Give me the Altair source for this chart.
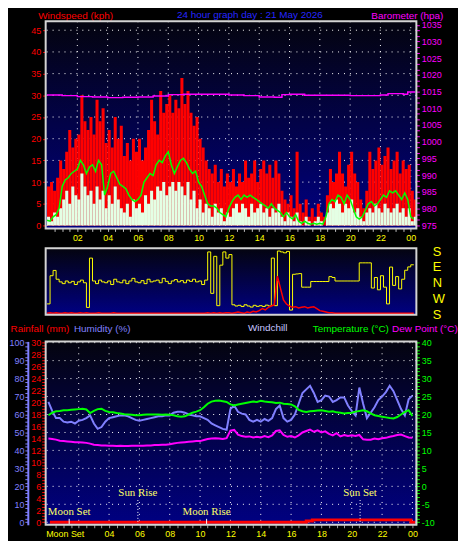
import altair as alt
import pandas as pd

FONT = "Liberation Sans"

# ---------------- wind data, 12-minute samples (hours since midnight) ----------------
t_wind = [round(0.2 * i, 1) for i in range(122)]

gust = [9, 10, 8, 11, 15, 13, 17, 22, 18, 20,
        21, 30, 24, 22, 25, 21, 29, 24, 27, 19,
        22, 18, 25, 20, 23, 16, 19, 15, 20, 17,
        20, 15, 18, 22, 29, 24, 21, 31, 26, 28,
        30, 26, 29, 27, 34, 28, 31, 26, 23, 25,
        20, 18, 15, 13, 12, 14, 10, 13, 9, 12,
        10, 13, 9, 12, 10, 15, 11, 12, 15, 10,
        13, 15, 12, 14, 11, 15, 12, 8, 6, 5,
        7, 4, 17, 5, 3, 6, 2, 4, 2, 5,
        3, 2, 7, 13, 10, 12, 17, 12, 9, 14,
        17, 12, 10, 6, 4, 8, 17, 13, 15, 18,
        14, 16, 18, 13, 15, 17, 12, 15, 13, 14,
        8, 6]

speed = [2, 1, 3, 2, 4, 6, 8, 5, 9, 7,
         6, 12, 9, 7, 8, 5, 9, 6, 8, 4,
         7, 5, 9, 6, 4, 3, 5, 2, 6, 4,
         5, 3, 7, 5, 8, 6, 9, 8, 10, 7,
         9, 10, 8, 10, 9, 7, 10, 6, 8, 4,
         6, 3, 5, 4, 2, 5, 3, 4, 1, 3,
         2, 4, 5, 3, 5, 4, 2, 5, 3, 4,
         5, 3, 4, 2, 4, 3, 5, 2, 1, 3,
         2, 1, 3, 1, 0, 2, 1, 0, 1, 2,
         1, 0, 3, 5, 4, 6, 5, 3, 5, 4,
         6, 3, 4, 2, 1, 3, 4, 3, 5, 4,
         3, 5, 4, 3, 4, 5, 3, 4, 2, 4,
         1, 2]

avg = [1.2, 1.0, 2, 2.5, 4, 9, 10.5, 11, 12, 12.5,
       13, 15, 14, 12, 13.5, 14, 12.5, 15, 14, 7,
       9, 12, 12.5, 11, 9.5, 9, 8.5, 7, 6, 5.5,
       6, 7, 10, 11, 12, 11.5, 14, 15, 14.5, 16,
       17, 14, 12, 13.5, 15, 15.5, 14.5, 13, 12, 12.5,
       10, 9, 7, 5, 4.5, 4.5, 4, 3, 2.5, 2,
       4, 5.5, 6.5, 7, 6, 7, 6.5, 7, 6.5, 6,
       5.5, 5, 4.5, 4, 5, 4, 3.5, 3, 2, 3,
       2, 1.5, 2.5, 1, 0.5, 1, 0.5, 0.3, 0.5, 0.3,
       0.5, 0.3, 2, 5, 6, 5.5, 7, 6.5, 5, 7,
       6, 4, 2, 1.5, 2, 3.5, 5, 5.5, 4.5, 5,
       6, 7, 6.5, 8, 7.5, 8, 7, 6, 7.5, 6,
       2, 1.5]

# wind direction, compass degrees
wdir = [240, 40, 70, 20, 5, 355, 10, 0, 8, 350,
        5, 15, 0, 220, 140, 10, 355, 15, 5, 0,
        10, 350, 20, 5, 0, 15, 355, 10, 25, 5,
        0, 12, 355, 20, 5, 10, 15, 0, 25, 8,
        355, 10, 18, 5, 12, 0, 15, 8, 20, 5,
        10, 350, 15, 175, 300, 150, 230, 100, 175, 140,
        160, 235, 228, 232, 225, 235, 228, 222, 232, 226,
        230, 225, 233, 228, 140, 230, 180, 175, 170, 178,
        205, 48, 50, 52, 335, 335, 335, 7, 7, 7,
        7, 7, 7, 35, 30, 10, 10, 10, 10, 10,
        10, 10, 10, 113, 113, 113, 113, 330, 30, 320,
        40, 335, 240, 89, 345, 35, 325, 20, 71, 90,
        102, 102]

# red trace of the direction panel (relative units 0-100)
wred = [2, 3, 2, 3, 2, 2, 3, 2, 3, 2,
        2, 3, 2, 3, 2, 2, 2, 3, 2, 2,
        2, 2, 3, 2, 2, 2, 2, 2, 2, 2,
        2, 2, 2, 2, 2, 2, 2, 2, 2, 2,
        2, 2, 2, 2, 2, 2, 2, 2, 2, 2,
        2, 2, 2, 3, 2, 3, 2, 3, 2, 3,
        3, 2, 3, 4, 3, 2, 4, 3, 5, 4,
        6, 9, 7, 11, 13, 15, 58, 40, 22, 16,
        13, 11, 12, 10, 11, 12, 10, 11, 12, 9,
        6, 5, 4, 3, 3, 2, 2, 2, 2, 2,
        2, 2, 2, 2, 2, 2, 2, 2, 2, 2,
        2, 2, 2, 2, 2, 2, 2, 2, 2, 2,
        2, 2]

# ---------------- barometer ----------------
t_baro = [0, 1, 2, 3, 4, 5, 6, 7, 8, 9, 10, 11, 12, 13, 14, 15, 15.5, 16, 17,
          18, 19, 20, 21, 22, 22.5, 23, 23.5, 23.8, 24.3]
baro = [1014.0, 1013.8, 1013.5, 1013.4, 1013.2, 1013.3, 1013.4, 1013.7, 1014.1,
        1014.2, 1014.2, 1014.2, 1014.0, 1013.8, 1013.4, 1013.3, 1014.1, 1014.2,
        1013.9, 1013.9, 1013.9, 1013.8, 1013.8, 1014.0, 1014.4, 1014.4, 1014.2,
        1014.9, 1014.9]

# ---------------- temperature / humidity, 15-minute samples ----------------
t_th = [round(0.25 * i, 2) for i in range(97)]

humidity = [67, 62, 58, 58, 56, 55.5, 56, 55,
            56.5, 57, 58, 59.5, 55, 52, 53, 56,
            58, 58.5, 59, 59.5, 59.5, 59, 58, 57,
            56.5, 57, 57.5, 58, 58.5, 59, 59, 59.5,
            59.5, 61, 61.5, 61.5, 61, 60, 59.5, 59,
            59, 58, 57, 55, 54, 53, 52, 51.5,
            63, 65, 61.5, 60.5, 60, 57, 56, 57,
            56, 57.5, 56.5, 58, 63, 65, 58, 56,
            57, 60, 66, 72, 74, 76, 72, 67,
            68, 70.5, 70, 67, 68, 69.5, 69.5, 65,
            62, 59.5, 75, 66, 58, 61, 64, 68,
            70, 72.5, 76, 73, 68, 63, 59.5, 68.5,
            70.5]

temperature = [19.8, 20.5, 20.9, 21.0, 21.2, 21.2, 21.3, 21.4,
               21.5, 21.6, 21.4, 20.4, 21.0, 21.5, 21.6, 21.0,
               20.7, 20.6, 20.4, 20.3, 20.1, 20.0, 19.9, 19.8,
               19.8, 19.9, 20.0, 20.0, 20.0, 20.0, 19.9, 20.0,
               19.9, 19.8, 19.5, 19.4, 19.5, 20.0, 20.5, 20.8,
               21.2, 22.0, 23.0, 23.6, 23.8, 23.9, 23.7, 23.5,
               22.8, 22.5, 22.8, 23.0, 23.2, 23.4, 23.6, 23.5,
               23.8, 23.6, 23.5, 23.4, 23.2, 23.3, 23.0, 22.9,
               22.8, 22.3, 21.3, 20.9, 20.7, 20.9, 21.0, 21.1,
               21.2, 21.0, 20.8, 20.9, 20.6, 20.5, 20.3, 20.4,
               20.5, 20.8, 21.0, 21.2, 20.9, 20.3, 19.8, 19.6,
               19.4, 19.2, 19.0, 18.9, 19.3, 20.0, 20.7, 21.2,
               19.6]

dewpoint = [13.3, 13.2, 13.0, 12.7, 12.6, 12.5, 12.4, 12.3,
            12.3, 12.2, 12.1, 11.9, 11.6, 11.5, 11.4, 11.4,
            11.3, 11.3, 11.2, 11.3, 11.2, 11.2, 11.3, 11.3,
            11.3, 11.3, 11.4, 11.4, 11.5, 11.5, 11.6, 11.6,
            11.7, 11.9, 12.1, 12.2, 12.3, 12.4, 12.5, 12.6,
            12.6, 12.9, 13.2, 13.3, 13.4, 13.3, 13.2, 13.4,
            15.5, 15.7, 14.4, 14.0, 13.8, 13.9, 13.6, 13.8,
            13.6, 14.0, 13.7, 14.2, 15.4, 15.6, 14.3, 13.8,
            14.0, 13.6, 14.2, 15.0, 15.4, 15.8, 15.2, 15.6,
            15.0, 15.3, 14.6, 14.2, 14.8, 13.9, 14.3, 14.0,
            14.2, 14.0, 14.3, 13.1, 13.0, 13.0, 13.3, 13.1,
            13.4, 13.5, 13.8, 14.0, 14.3, 14.4, 14.0, 13.6,
            13.5]

# rainfall (cumulative, mm)
t_rain = [0.1, 17.0, 17.4, 23.9, 24.2]
rain = [0.0, 0.2, 0.4, 0.0, 0.0]

# sun / moon events
ev_name = ["Moon Set", "Sun Rise", "Moon Rise", "Sun Set"]
ev_time = [1.37, 5.90, 10.43, 20.55]
ev_kind = ["moon", "sun", "moon", "sun"]

kph_ticks = list(range(0, 46, 5))
hum_grid = list(range(0, 101, 10))
hour_grid = list(range(2, 25, 2))
half_hours = [0.5 * i for i in range(1, 49)]
baro_ticks = [975 + i * 5 / 3 for i in range(37)]

# ---------------- tables ----------------
wind = pd.DataFrame({"h": t_wind, "gust": gust, "speed": speed, "avg": avg,
                     "dir": wdir, "wred": wred})
baro_df = pd.DataFrame({"h": t_baro, "p": baro})
th = pd.DataFrame({"h": t_th, "hum": humidity, "temp": temperature, "dew": dewpoint})
rain_df = pd.DataFrame({"h": t_rain, "r": rain})
ev = pd.DataFrame({"name": ev_name, "h": ev_time, "kind": ev_kind})
one = pd.DataFrame({"k": [0]})

W, HT, HM, HB = 374, 209, 67, 185
YEL = "#ffff00"


def gradient():
    return alt.LinearGradient(
        gradient="linear",
        stops=[alt.GradientStop(color="#04040f", offset=0),
               alt.GradientStop(color="#000082", offset=1)],
        x1=0, x2=0, y1=0, y2=1)


def background(h):
    return alt.Chart(one).mark_rect(color=gradient()).encode(
        x=alt.value(0), x2=alt.value(W), y=alt.value(0), y2=alt.value(h))


def frame(h):
    return alt.Chart(one).mark_rect(filled=False, stroke="#d4d4d4", strokeWidth=2).encode(
        x=alt.value(0), x2=alt.value(W), y=alt.value(0), y2=alt.value(h))


DOTS = dict(color="#ffffff", strokeDash=[1, 5], strokeWidth=1)

# ---------------- top panel: wind speed + barometer ----------------
XT = alt.Scale(domain=[-0.09, 24.37], nice=False, zero=False)
YK = alt.Scale(domain=[-0.67, 47.07], nice=False, zero=False)
YB = alt.Scale(domain=[974.04, 1036.07], nice=False, zero=False)

lab_top = ("datum.value % 2 == 0 ? ((datum.value % 24) < 10 ? '0' : '') + (datum.value % 24) : ''")
X_AX_TOP = alt.Axis(values=half_hours, labelExpr=lab_top, grid=False, domain=False,
                    tickColor="#c0c0c0", tickSize=3, labelColor=YEL, labelFontSize=9,
                    labelPadding=2, title=None, labelFlush=False, labelOverlap=False)
xt = alt.X("h:Q", scale=XT, axis=X_AX_TOP)

Y_AX_KPH = alt.Axis(values=kph_ticks, orient="left", grid=False, domain=False,
                    tickColor="#ff0000", tickSize=3, labelColor="#ff0000", labelFontSize=9,
                    labelPadding=2, title="Windspeed (kph)", titleColor="#ff0000",
                    titleFontSize=10, titleFontWeight="normal", titleAngle=0,
                    titleAlign="left", titleBaseline="alphabetic", titleX=-8, titleY=-3)
Y_AX_BARO = alt.Axis(values=baro_ticks, orient="right", grid=False, domain=False,
                     labelExpr="abs(datum.value / 5 - round(datum.value / 5)) < 0.01 ? '' + round(datum.value) : ''",
                     tickColor="#ff00ff", tickSize=3, labelColor="#ff00ff", labelFontSize=9,
                     labelPadding=2, labelOverlap=False, labelFlush=False,
                     title="Barometer (hpa)", titleColor="#ff00ff",
                     titleFontSize=10, titleFontWeight="normal", titleAngle=0,
                     titleAlign="left", titleBaseline="alphabetic", titleX=-46, titleY=-3)

hgrid_top = alt.Chart(pd.DataFrame({"v": kph_ticks})).mark_rule(**DOTS).encode(
    y=alt.Y("v:Q", scale=YK, axis=None))
vgrid_top = alt.Chart(pd.DataFrame({"h": hour_grid})).mark_rule(**DOTS).encode(x=xt)

gust_ch = alt.Chart(wind).transform_calculate(h2="datum.h + 0.2").mark_rect(
    color="#ff0000", clip=True).encode(
    x=xt, x2="h2:Q", y=alt.Y("gust:Q", scale=YK, axis=Y_AX_KPH), y2=alt.datum(0))
speed_ch = alt.Chart(wind).transform_calculate(h2="datum.h + 0.2").mark_rect(
    color="#e4ffe4", clip=True).encode(
    x=xt, x2="h2:Q", y=alt.Y("speed:Q", scale=YK, axis=None), y2=alt.datum(0))
avg_ch = alt.Chart(wind).mark_line(color="#00ff00", strokeWidth=1.5, clip=True).encode(
    x=xt, y=alt.Y("avg:Q", scale=YK, axis=None))
baro_ch = alt.Chart(baro_df).mark_line(color="#ff00ff", strokeWidth=1.5,
                                       interpolate="step-after", clip=True).encode(
    x=xt, y=alt.Y("p:Q", scale=YB, axis=Y_AX_BARO))
title_top = alt.Chart(one).mark_text(text="24 hour graph day : 21 May 2026", color="#2626ff",
                                     fontSize=10, align="center", baseline="alphabetic").encode(
    x=alt.value(206), y=alt.value(-3))

top = alt.layer(background(HT), hgrid_top, vgrid_top, gust_ch, speed_ch, avg_ch, baro_ch,
                title_top, frame(HT)).resolve_scale(y="independent").properties(width=W, height=HT)

# ---------------- middle panel: wind direction ----------------
YD = alt.Scale(domain=[-181, 196], nice=False, zero=False)
YR = alt.Scale(domain=[0, 100], nice=False, zero=False)
DIR_AX = alt.Axis(orient="right", values=[180, 90, 0, -90, -180],
                  labelExpr="datum.value == 90 ? 'E' : datum.value == 0 ? 'N' : datum.value == -90 ? 'W' : 'S'",
                  ticks=False, domain=False, grid=False, labelColor=YEL, labelFontSize=13,
                  labelPadding=16, title=None, labelFlush=False, labelOverlap=False)
xm = alt.X("h:Q", scale=XT, axis=None)
dir_ch = alt.Chart(wind).transform_calculate(
    dp="datum.dir > 180 ? datum.dir - 360 : datum.dir").mark_line(
    color=YEL, strokeWidth=1, interpolate="step-after", clip=True).encode(
    x=xm, y=alt.Y("dp:Q", scale=YD, axis=DIR_AX))
wred_ch = alt.Chart(wind).mark_line(color="#ff0000", strokeWidth=1.5, clip=True).encode(
    x=xm, y=alt.Y("wred:Q", scale=YR, axis=None))
mid = alt.layer(background(HM), dir_ch, wred_ch, frame(HM)).resolve_scale(
    y="independent").properties(width=W, height=HM)

# ---------------- bottom panel: temperature / humidity / rain ----------------
XB = alt.Scale(domain=[-0.18, 24.26], nice=False, zero=False)
YH = alt.Scale(domain=[-1.4, 100.7], nice=False, zero=False)
YRN = alt.Scale(domain=[-0.42, 30.21], nice=False, zero=False)
YT = alt.Scale(domain=[-10.7, 40.35], nice=False, zero=False)

lab_bot = ("datum.value % 2 == 0 && datum.value != 2 ? ((datum.value % 24) < 10 ? '0' : '') + (datum.value % 24) : ''")
X_AX_BOT = alt.Axis(values=half_hours, labelExpr=lab_bot, grid=False, domain=False,
                    tickColor="#a0a0a0", tickSize=3, labelColor=YEL, labelFontSize=9,
                    labelPadding=2, title=None, labelFlush=False, labelOverlap=False)
xb = alt.X("h:Q", scale=XB, axis=X_AX_BOT)

TITLE_COMMON = dict(titleFontSize=10, titleFontWeight="normal", titleAngle=0,
                    titleAlign="left", titleBaseline="alphabetic", titleY=-10)
RAIN_AX = alt.Axis(orient="left", offset=1, values=[0.5 * i for i in range(61)],
                   labelExpr="datum.value % 2 == 0 ? '' + round(datum.value) : ''", grid=False,
                   domain=False, tickColor="#ff0000", tickSize=3, labelColor="#ff0000",
                   labelFontSize=9, labelPadding=1, labelOverlap=False, labelFlush=False,
                   title="Rainfall (mm)", titleColor="#ff0000", titleX=-35, **TITLE_COMMON)
HUM_AX = alt.Axis(orient="left", offset=18, values=list(range(0, 101, 2)),
                  labelExpr="datum.value % 10 == 0 ? '' + round(datum.value) : ''", grid=False,
                  domain=True, domainColor="#8080ff", domainWidth=2, tickColor="#8080ff",
                  tickSize=3, labelColor="#8080ff", labelFontSize=9, labelPadding=1,
                  labelOverlap=False, labelFlush=False,
                  title="Humidity (%)", titleColor="#8080ff", titleX=46, **TITLE_COMMON)
TEMP_AX = alt.Axis(orient="right", values=list(range(-10, 41)),
                   labelExpr="datum.value % 5 == 0 ? '' + round(datum.value) : ''", grid=False,
                   domain=True, domainColor="#00ff00", tickColor="#00ff00", tickSize=3,
                   labelColor="#00ff00", labelFontSize=9, labelPadding=2,
                   labelOverlap=False, labelFlush=False,
                   title="Temperature (°C)", titleColor="#00ff00", titleX=-105, **TITLE_COMMON)
DEW_AX = alt.Axis(orient="right", labels=False, ticks=False, domain=False, grid=False,
                  title="Dew Point (°C)", titleColor="#ff00ff", titleX=-25, **TITLE_COMMON)

hgrid_bot = alt.Chart(pd.DataFrame({"v": hum_grid})).mark_rule(**DOTS).encode(
    y=alt.Y("v:Q", scale=YH, axis=None))
vgrid_bot = alt.Chart(pd.DataFrame({"h": hour_grid})).mark_rule(**DOTS).encode(x=xb)
rain_ch = alt.Chart(rain_df).mark_line(color="#ff0000", strokeWidth=3,
                                       interpolate="step-after", clip=True).encode(
    x=xb, y=alt.Y("r:Q", scale=YRN, axis=RAIN_AX))
hum_ch = alt.Chart(th).mark_line(color="#8080ff", strokeWidth=2, clip=True).encode(
    x=xb, y=alt.Y("hum:Q", scale=YH, axis=HUM_AX))
temp_ch = alt.Chart(th).mark_line(color="#00ff00", strokeWidth=2, clip=True).encode(
    x=xb, y=alt.Y("temp:Q", scale=YT, axis=TEMP_AX))
dew_ch = alt.Chart(th).mark_line(color="#ff00ff", strokeWidth=2, clip=True).encode(
    x=xb, y=alt.Y("dew:Q", scale=YT, axis=DEW_AX))
windchill_lbl = alt.Chart(one).mark_text(text="Windchill", color="#c4c4ff", fontSize=10,
                                         align="center", baseline="alphabetic").encode(
    x=alt.value(224), y=alt.value(-10))

moon_txt = alt.Chart(ev).transform_filter("datum.kind == 'moon'").mark_text(
    color="#ffff66", fontSize=11, font="Liberation Serif", baseline="middle").encode(
    x=xb, y=alt.value(172), text="name:N")
sun_txt = alt.Chart(ev).transform_filter("datum.kind == 'sun'").mark_text(
    color="#ffff66", fontSize=11, font="Liberation Serif", baseline="middle").encode(
    x=xb, y=alt.value(153), text="name:N")
moon_tick = alt.Chart(ev).transform_filter("datum.kind == 'moon'").mark_rule(
    color="#ffffff", strokeWidth=1).encode(x=xb, y=alt.value(179), y2=alt.value(HB))
sun_tick = alt.Chart(ev).transform_filter("datum.kind == 'sun'").mark_rule(
    color="#ffffff", strokeWidth=1, strokeDash=[1, 2]).encode(x=xb, y=alt.value(160), y2=alt.value(HB))
moonset_row = alt.Chart(ev).transform_filter("datum.name == 'Moon Set'").mark_text(
    color=YEL, fontSize=9, baseline="top", dx=-4).encode(
    x=xb, y=alt.value(HB + 5), text="name:N")

bot = alt.layer(background(HB), hgrid_bot, vgrid_bot, rain_ch, hum_ch, temp_ch, dew_ch,
                windchill_lbl, moon_txt, sun_txt, moon_tick, sun_tick, moonset_row,
                frame(HB)).resolve_scale(y="independent").properties(width=W, height=HB)

chart = alt.vconcat(top, mid, bot, spacing=2).properties(padding=0).configure(
    background="#000000", font=FONT).configure_view(strokeWidth=0).configure_axis(
    labelFont=FONT, titleFont=FONT)

chart.save("out.html", embed_options={"renderer": "svg", "actions": False})
